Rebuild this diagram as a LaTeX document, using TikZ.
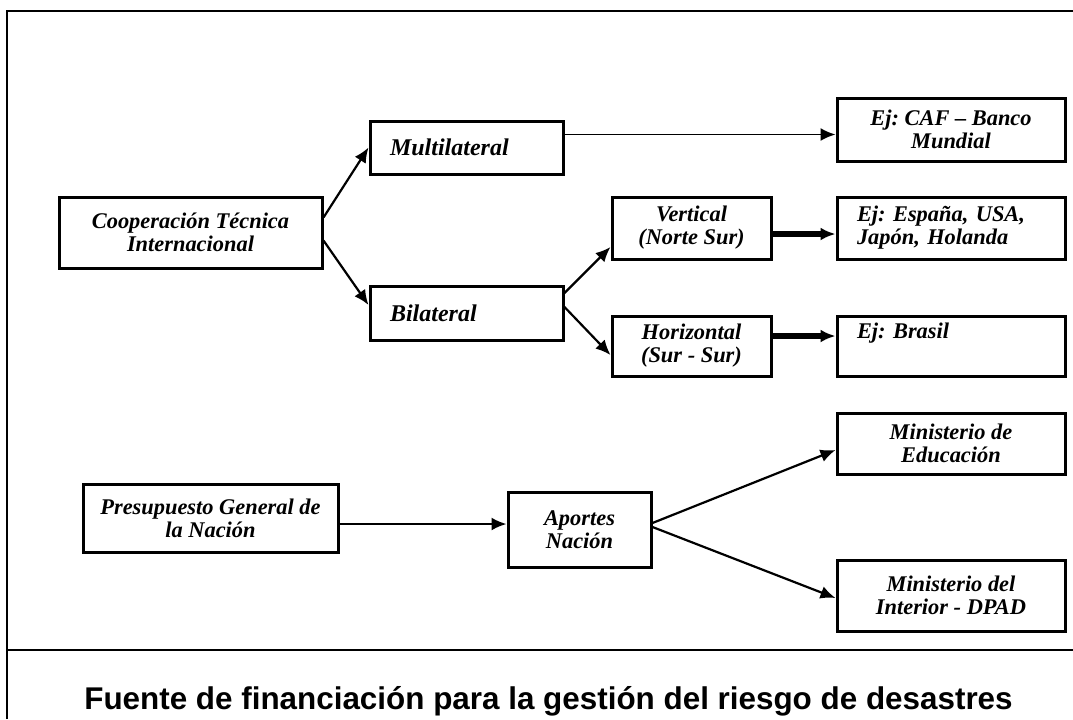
\documentclass[tikz,border=0pt]{standalone}
\usepackage{fontspec}
\setmainfont{Liberation Serif}
\newfontfamily\titlefont{Liberation Sans}
\usetikzlibrary{arrows.meta}

\begin{document}
\frenchspacing
\begin{tikzpicture}[->,>={Latex[length=7.5pt,width=6.5pt]},x=0.5pt,y=-0.5pt,
  box/.style={draw,-,line width=1.5pt,font=\fontsize{11.2}{11.5}\selectfont\bfseries\itshape,align=center},
  leftbox/.style={box,align=left,inner xsep=10pt},
  arr/.style={line width=1.1pt},
  fatarr/.style={line width=2.6pt}]

\useasboundingbox (0,0) rectangle (1073,719);

% frame
\draw[-,line width=1pt] (7,719) -- (7,11) -- (1073,11);
\draw[-,line width=1pt] (7,650) -- (1073,650);

\node[box,minimum width=131.5pt,minimum height=35.5pt] (coop) at (190.5,232.5) {Cooperación Técnica\\Internacional};
\node[leftbox,minimum width=96.5pt,minimum height=26.5pt,text width=76.5pt,font=\fontsize{12}{13}\selectfont\bfseries\itshape] (multi) at (466.5,147.5) {Multilateral};
\node[leftbox,minimum width=96.5pt,minimum height=27pt,text width=76.5pt,font=\fontsize{12}{13}\selectfont\bfseries\itshape] (bi) at (466.5,313) {Bilateral};
\node[box,minimum width=79.5pt,minimum height=31pt] (vert) at (691.5,228) {Vertical\\(Norte Sur)};
\node[box,minimum width=79.5pt,minimum height=30pt] (horiz) at (691.5,346) {Horizontal\\(Sur - Sur)};
\node[box,minimum width=114pt,minimum height=31.5pt] (caf) at (951,129.5) {Ej: CAF -- Banco\\Mundial};
\node[leftbox,minimum width=114pt,minimum height=31pt,text width=94pt] (esp) at (951,228) {Ej: España, USA,\\Japón, Holanda};
\node[leftbox,minimum width=114pt,minimum height=30pt,text width=94pt] (bras) at (951,346) {Ej: Brasil\\\strut};

\node[box,minimum width=127.5pt,minimum height=34pt] (presu) at (210.5,518) {Presupuesto General de\\la Nación};
\node[box,minimum width=71.5pt,minimum height=37.5pt] (aport) at (579.5,529.5) {Aportes\\Nación};
\node[box,minimum width=114pt,minimum height=30.5pt] (mined) at (951,443.5) {Ministerio de\\Educación};
\node[box,minimum width=114pt,minimum height=35.5pt] (minint) at (951,595.5) {Ministerio del\\Interior - DPAD};

\path ([yshift=7.5pt]coop.east) edge[arr] (multi.west)
  ([yshift=-4pt]coop.east) edge[arr] ([yshift=4pt]bi.west)
  ([yshift=6.5pt]multi.east) edge[line width=0.9pt] ([yshift=-2.5pt]caf.west)
  ([yshift=10pt]bi.east) edge[arr] ([yshift=-9.5pt]vert.west)
  ([yshift=3pt]bi.east) edge[arr] ([yshift=-4.5pt]horiz.west)
  ([yshift=-3pt]vert.east) edge[fatarr] ([yshift=-3pt]esp.west)
  ([yshift=5pt]horiz.east) edge[fatarr] ([yshift=5pt]bras.west);

\path ([yshift=-3pt]presu.east) edge[arr] ([yshift=2.75pt]aport.west)
  ([yshift=3.25pt]aport.east) edge[arr] ([yshift=-3.25pt]mined.west)
  ([yshift=1.25pt]aport.east) edge[arr] ([yshift=-1.25pt]minint.west);

\node[font=\titlefont\fontsize{15.7}{18}\selectfont\bfseries] (title) at (548.5,701) {Fuente de financiación para la gestión del riesgo de desastres};

\end{tikzpicture}
\end{document}
